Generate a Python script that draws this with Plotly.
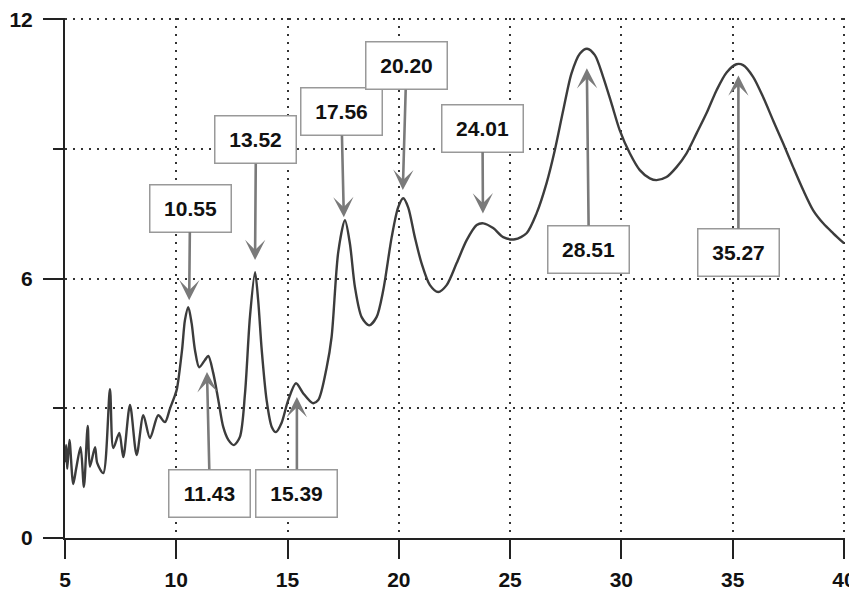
import plotly.graph_objects as go

# ---- curve data ----
x_vals = [5.0, 5.05, 5.1, 5.2, 5.37, 5.5, 5.7, 5.85, 6.02, 6.12, 6.35, 6.45, 6.72,
          7.02, 7.17, 7.44, 7.62, 7.92, 8.22, 8.52, 8.82, 9.19, 9.49, 9.72, 9.94,
          10.03, 10.26, 10.39, 10.54, 10.69, 10.84, 11.03, 11.29, 11.44, 11.66, 11.89,
          12.11, 12.34, 12.59, 12.86, 13.09, 13.31, 13.54, 13.68, 13.84, 14.06, 14.29,
          14.48, 14.73, 15.03, 15.38, 15.7, 16.13, 16.38, 16.76, 16.98, 17.28, 17.58,
          17.8, 18.03, 18.33, 18.67, 19.0, 19.3, 19.68, 19.97, 20.2, 20.42, 20.72,
          21.02, 21.4, 21.77, 22.15, 22.6, 23.05, 23.5, 23.8, 24.24, 24.69, 25.22,
          25.74, 26.19, 26.64, 27.01, 27.39, 27.76, 28.14, 28.46, 28.81, 29.18, 29.56,
          29.93, 30.38, 30.83, 31.28, 31.58, 32.03, 32.48, 32.93, 33.38, 33.83, 34.28,
          34.73, 35.17, 35.47, 35.92, 36.37, 36.82, 37.27, 37.72, 38.17, 38.62, 39.07,
          39.52, 40.0]
y_vals = [1.75, 2.15, 1.6, 2.27, 1.25, 1.6, 2.1, 1.18, 2.59, 1.65, 2.1, 1.73, 1.5,
          3.44, 2.08, 2.43, 1.87, 3.08, 1.92, 2.84, 2.31, 2.84, 2.68, 3.0, 3.3,
          3.45, 4.35, 5.04, 5.34, 4.97, 4.35, 3.95, 4.12, 4.21, 3.82, 3.19,
          2.57, 2.27, 2.15, 2.34, 3.35, 5.11, 6.15, 5.5, 4.35, 3.19, 2.57,
          2.45, 2.66, 3.19, 3.58, 3.35, 3.12, 3.19, 3.95, 4.65, 6.62, 7.35,
          6.82, 5.8, 5.11, 4.92, 5.11, 5.73, 6.96, 7.65, 7.86, 7.65, 6.96,
          6.36, 5.85, 5.69, 5.85, 6.36, 6.89, 7.24, 7.28, 7.17, 6.96, 6.91,
          7.05, 7.51, 8.21, 8.97, 9.9, 10.75, 11.21, 11.32, 11.17, 10.67, 10.05,
          9.43, 8.9, 8.51, 8.32, 8.28, 8.35, 8.58, 8.9, 9.36, 9.83, 10.36,
          10.77, 10.96, 10.94, 10.67, 10.2, 9.66, 9.13, 8.58, 8.05, 7.58, 7.28,
          7.05, 6.82]

# ---- peak labels ----
peak_labels = ["10.55", "11.43", "13.52", "15.39", "17.56", "20.20", "24.01", "28.51", "35.27"]
arrow_tip_x = [10.58, 11.38, 13.54, 15.42, 17.53, 20.18, 23.78, 28.45, 35.26]
arrow_tip_y = [5.5, 3.84, 6.43, 3.26, 7.42, 8.05, 7.51, 10.87, 10.7]
label_box_x = [10.62, 11.51, 13.58, 15.42, 17.42, 20.34, 23.76, 28.54, 35.26]
label_box_y = [7.63, 1.04, 9.21, 1.04, 9.86, 10.92, 9.48, 6.68, 6.61]

x_ticks = [5, 10, 15, 20, 25, 30, 35, 40]
y_ticks = [0, 6, 12]

fig = go.Figure()
fig.add_trace(go.Scatter(
    x=x_vals, y=y_vals, mode="lines",
    line=dict(color="#3c3c3c", width=2.4, shape="spline", smoothing=0.8),
    hoverinfo="skip", showlegend=False,
))

for lab, tx, ty, bx, by in zip(peak_labels, arrow_tip_x, arrow_tip_y, label_box_x, label_box_y):
    fig.add_annotation(
        x=tx, y=ty, ax=bx, ay=by, xref="x", yref="y", axref="x", ayref="y",
        text="<b>" + lab + "</b>", showarrow=True,
        arrowhead=3, arrowsize=1.3, arrowwidth=2.6, arrowcolor="#7a7a7a",
        font=dict(family="Liberation Sans", size=21, color="#111111"),
        bgcolor="white", bordercolor="#999999", borderwidth=1.5,
        width=76, height=42, borderpad=2,
    )

grid_dash = "2px,6px"
fig.update_xaxes(
    range=[5, 40.05], tickvals=x_ticks, ticktext=[str(v) for v in x_ticks],
    showline=True, linecolor="#222222", linewidth=2,
    ticks="outside", ticklen=19, tickwidth=2, tickcolor="#222222",
    tickfont=dict(family="Liberation Sans", size=21, color="#111111", weight="bold"),
    ticklabelstandoff=3, automargin=False, ticklabeloverflow="allow",
    showgrid=True, gridcolor="#333333", gridwidth=1.5, griddash=grid_dash,
    zeroline=False, mirror=False,
)
fig.update_yaxes(
    range=[0, 12.03], tickvals=y_ticks, ticktext=[str(v) for v in y_ticks],
    showline=True, linecolor="#222222", linewidth=2,
    ticks="outside", ticklen=20, tickwidth=2, tickcolor="#222222",
    tickfont=dict(family="Liberation Sans", size=21, color="#111111", weight="bold"),
    ticklabelstandoff=6, automargin=False, ticklabeloverflow="allow",
    showgrid=True, gridcolor="#333333", gridwidth=1.5, griddash=grid_dash,
    minor=dict(tickvals=[3, 9], ticks="outside", ticklen=10, tickwidth=2,
               tickcolor="#222222", showgrid=True, gridcolor="#333333",
               gridwidth=1.5, griddash=grid_dash),
    zeroline=False, mirror=False,
)

# the page adds an 8px body margin, so the figure is sized to fit inside it
fig.update_layout(
    width=849, height=587,
    margin=dict(l=57, r=12, t=10, b=57),
    paper_bgcolor="white", plot_bgcolor="white",
    showlegend=False,
)

fig.write_html("out.html")
